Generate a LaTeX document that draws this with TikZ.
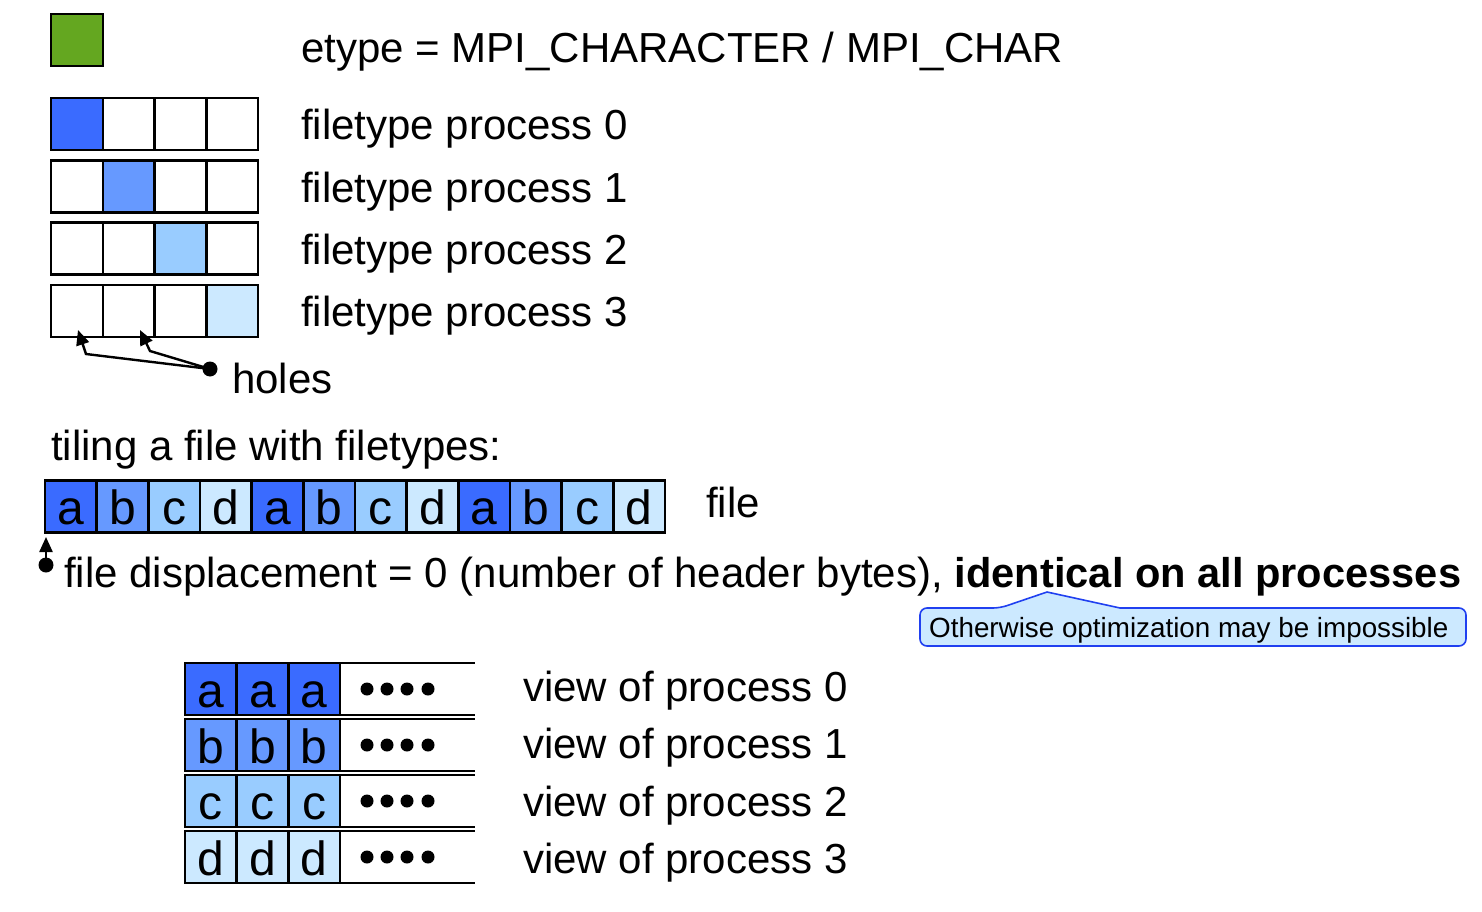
\documentclass[tikz,border=0pt]{standalone}
\usepackage{fontspec}
\setmainfont{Liberation Sans}
\usetikzlibrary{arrows.meta}
\definecolor{cgreen}{HTML}{64A720}
\definecolor{ca}{HTML}{3A6BFF}
\definecolor{cb}{HTML}{6699FF}
\definecolor{cc}{HTML}{99CCFF}
\definecolor{cd}{HTML}{CCE9FF}
\definecolor{cline}{HTML}{2040F0}
\newcommand\mybigf{\fontsize{42}{50}\selectfont}
\newcommand\mycellf{\fontsize{48}{56}\selectfont}
\newcommand\mysmallf{\fontsize{27.8}{33}\selectfont}
\begin{document}
\begin{tikzpicture}[x=1pt,y=-1pt,
  cell/.style={draw=black, line width=2.5pt, minimum width=51.7pt, minimum height=52pt,
    inner sep=0pt, outer sep=0pt, text height=36pt, text depth=0pt, font=\mycellf},
  lbl/.style={anchor=base west, inner sep=0pt, font=\mybigf},
  dotn/.style={circle, fill=black, inner sep=0pt, minimum size=15pt},
  arr/.style={line width=2.4pt, -{Triangle[length=15pt,width=13pt]}},
  ]
\useasboundingbox (0,0) rectangle (1482,912);
% etype
\node[cell, minimum width=52pt, fill=cgreen] (et) at (77,40) {};
\node[lbl] (etl) at (301,63) {etype = MPI\_CHARACTER / MPI\_CHAR};
% filetypes
\foreach \r/\col in {0/ca,1/cb,2/cc,3/cd}{
  \foreach \k in {0,1,2,3}{
    \ifnum\k=\r
      \node[cell, fill=\col] (ft\r-\k) at ({77+51.75*\k},{124+62.3*\r}) {};
    \else
      \node[cell, fill=white] (ft\r-\k) at ({77+51.75*\k},{124+62.3*\r}) {};
    \fi
  }
  \node[lbl] (ftl\r) at (301,{140+62.3*\r}) {filetype process \r};
}
% holes
\node[dotn] (hd) at (210,369) {};
\coordinate (h1) at (78,330);
\coordinate (h2) at (140,330);
\draw[arr] (hd.center) -- (86,354) -- (h1);
\draw[arr] (hd.center) -- (150,351) -- (h2);
\node[lbl] (hl) at (232,393) {holes};
% tiling
\node[lbl] (tl) at (51,460) {tiling a file with filetypes:};
\foreach \i/\ch/\col in {1/a/ca,2/b/cb,3/c/cc,4/d/cd,5/a/ca,6/b/cb,7/c/cc,8/d/cd,9/a/ca,10/b/cb,11/c/cc,12/d/cd}{
  \node[cell, fill=\col] (f\i) at ({45+51.67*(\i-0.5)},506.5) {\ch};
}
\node[lbl] (fl) at (706,517) {file};
% displacement
\node[dotn] (dd) at (46,565) {};
\coordinate (ddt) at (46,537);
\draw[arr] (dd.center) -- (ddt);
\node[lbl] (dl) at (64,587) {file displacement = 0 (number of header bytes), {\fontsize{41.6}{50}\selectfont\bfseries identical on all processes}};
% callout
\draw[cline, fill=cd, line width=1.6pt, rounded corners=7pt]
  (920,627) |- (1000,608) [sharp corners] -- (1047,592) -- (1120,608) [rounded corners=7pt] -| (1466,627) |- (920,646) -- cycle;
\node[anchor=base west, inner sep=0pt, font=\mysmallf] (co) at (929,637) {Otherwise optimization may be impossible};
% views
\foreach \r/\ch/\col in {0/a/ca,1/b/cb,2/c/cc,3/d/cd}{
  \foreach \k in {0,1,2}{
    \node[cell, fill=\col] (v\r-\k) at ({185+51.67*(\k+0.5)},{689+56*\r}) {\ch};
  }
  \coordinate (ve\r) at (475,{663+56*\r});
  \coordinate (vf\r) at (475,{715+56*\r});
  \draw[line width=2.5pt] (v\r-2.north east) -- (ve\r);
  \draw[line width=2.5pt] (v\r-2.south east) -- (vf\r);
  \foreach \d/\xx in {1/367,2/387,3/407,4/428}{
    \node[dotn, minimum size=13pt] (vd\r-\d) at (\xx,{689+56*\r}) {};
  }
  \node[lbl] (vl\r) at (523,{701+57.5*\r}) {view of process \r};
}
\end{tikzpicture}
\end{document}
